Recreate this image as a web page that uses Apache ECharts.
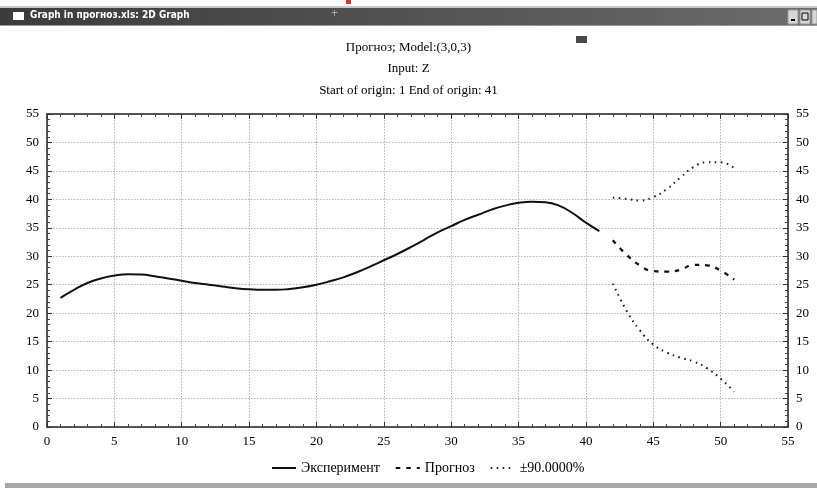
<!DOCTYPE html>
<html>
<head>
<meta charset="utf-8">
<script src="https://cdn.jsdelivr.net/npm/echarts@6/dist/echarts.min.js"></script>
<style>
html,body{margin:0;padding:0;background:#fff;}
#chart{width:817px;height:488px;}
</style>
</head>
<body>
<div id="chart"></div>
<script>
// ---- data ----
var titleLines = ['Прогноз; Model:(3,0,3)', 'Input: Z', 'Start of origin: 1 End of origin: 41'];
var windowTitle = 'Graph in прогноз.xls: 2D Graph';
var seriesNames = ['Эксперимент', 'Прогноз', '±90.0000%'];
var axisTicks = [0, 5, 10, 15, 20, 25, 30, 35, 40, 45, 50, 55];

var expStart = 1; // first observation (x = 1 .. 41)
var experiment = [22.7, 24.1, 25.3, 26.1, 26.6, 26.85, 26.8, 26.5, 26.1, 25.7,
                  25.3, 25.0, 24.7, 24.4, 24.2, 24.1, 24.1, 24.25, 24.55, 25.0,
                  25.6, 26.3, 27.2, 28.2, 29.3, 30.4, 31.6, 32.9, 34.2, 35.3,
                  36.4, 37.3, 38.2, 38.9, 39.4, 39.6, 39.5, 38.9, 37.6, 35.9,
                  34.4];
var fcStart = 42; // forecast x = 42 .. 51
var forecast = [32.8, 30.3, 28.4, 27.4, 27.3, 27.6, 28.5, 28.4, 27.5, 25.9];
var upperBand = [40.3, 40.1, 39.8, 40.4, 41.8, 43.8, 45.7, 46.5, 46.5, 45.5];
var lowerBand = [25.2, 20.5, 17.0, 14.5, 13.1, 12.2, 11.5, 10.3, 8.5, 6.2];

function pairs(start, vals) { return vals.map(function (v, i) { return [start + i, v]; }); }

var chart = echarts.init(document.getElementById('chart'), null, {renderer: 'canvas'});
var serif = 'Liberation Serif, Times New Roman, serif';
var ink = '#000';

function makeAxis(pos, showLabel, showSplit) {
  return {
    type: 'value', position: pos, min: axisTicks[0], max: axisTicks[axisTicks.length - 1], interval: 5,
    axisLine: {show: true, onZero: false, lineStyle: {color: '#222', width: 1.5}},
    axisTick: {show: true, inside: true, length: 5, lineStyle: {color: '#333', width: 1}},
    minorTick: {show: true, splitNumber: 5, length: 3, lineStyle: {color: '#444', width: 1}},
    splitLine: {show: showSplit, lineStyle: {color: '#b4b4b4', type: [1.5, 1.5], width: 1}},
    axisLabel: {show: showLabel, margin: 8, color: ink, fontFamily: serif, fontSize: 13}
  };
}

var lineCommon = {type: 'line', smooth: true, symbol: 'none', silent: true};

var option = {
  animation: false,
  backgroundColor: '#ffffff',
  title: titleLines.map(function (t, i) {
    return {text: t, left: 'center', top: 36 + i * 21.5,
      textStyle: {fontFamily: serif, fontSize: 13, fontWeight: 'normal', color: ink}};
  }),
  grid: {left: 47, right: 29, top: 114, bottom: 61, containLabel: false},
  xAxis: [makeAxis('bottom', true, true), makeAxis('top', false, false)],
  yAxis: [makeAxis('left', true, true), makeAxis('right', true, false)],
  legend: {
    orient: 'horizontal', top: 456, left: 266, itemWidth: 24, itemHeight: 8, itemGap: 15,
    itemStyle: {opacity: 0},
    textStyle: {fontFamily: serif, fontSize: 14, color: ink},
    data: seriesNames.slice()
  },
  series: [
    Object.assign({}, lineCommon, {name: seriesNames[0], data: pairs(expStart, experiment),
      lineStyle: {color: '#111', width: 2}, itemStyle: {color: '#111'}}),
    Object.assign({}, lineCommon, {name: seriesNames[1], data: pairs(fcStart, forecast),
      lineStyle: {color: '#111', width: 2.3, type: [4.5, 6]}, itemStyle: {color: '#111'}}),
    Object.assign({}, lineCommon, {name: seriesNames[2], data: pairs(fcStart, upperBand),
      lineStyle: {color: '#222', width: 2, type: [1.6, 4.4]}, itemStyle: {color: '#222'}}),
    Object.assign({}, lineCommon, {name: seriesNames[2], data: pairs(fcStart, lowerBand),
      lineStyle: {color: '#222', width: 2, type: [1.6, 4.4]}, itemStyle: {color: '#222'}})
  ],
  graphic: [
    {type: 'rect', shape: {x: 0, y: 6, width: 817, height: 2}, style: {fill: '#c9c9c9'}, silent: true},
    {type: 'rect', shape: {x: 0, y: 8, width: 817, height: 17},
      style: {fill: new echarts.graphic.LinearGradient(0, 0, 1, 0, [
        {offset: 0, color: '#3b3b3b'}, {offset: 0.6, color: '#575757'}, {offset: 1, color: '#6c6c6c'}])}, silent: true},
    {type: 'rect', shape: {x: 0, y: 25, width: 817, height: 1}, style: {fill: '#9a9a9a'}, silent: true},
    {type: 'rect', shape: {x: 13, y: 12, width: 11, height: 8}, style: {fill: '#ffffff'}, silent: true},
    {type: 'text', left: 30, top: 10, silent: true,
      style: {text: windowTitle, fill: '#ffffff', font: 'bold 10px "Liberation Sans Narrow", "DejaVu Sans Condensed", sans-serif'}},
    {type: 'text', left: 331, top: 8, silent: true,
      style: {text: '+', fill: '#a8a8a8', font: '12px sans-serif'}},
    {type: 'rect', shape: {x: 346, y: 0, width: 5, height: 4}, style: {fill: '#d23a2a'}, silent: true},
    {type: 'rect', shape: {x: 788, y: 10, width: 10, height: 14}, style: {fill: '#d8d8d8', stroke: '#999'}, silent: true},
    {type: 'rect', shape: {x: 791, y: 19, width: 4, height: 2}, style: {fill: '#000'}, silent: true},
    {type: 'rect', shape: {x: 800, y: 10, width: 10, height: 14}, style: {fill: '#d8d8d8', stroke: '#999'}, silent: true},
    {type: 'rect', shape: {x: 802, y: 13, width: 6, height: 7}, style: {fill: 'none', stroke: '#000', lineWidth: 1}, silent: true},
    {type: 'rect', shape: {x: 812, y: 10, width: 5, height: 14}, style: {fill: '#d8d8d8', stroke: '#999'}, silent: true},
    {type: 'rect', shape: {x: 576, y: 36, width: 11, height: 7}, style: {fill: '#4a4a4a'}, silent: true},
    {type: 'rect', shape: {x: 5, y: 483, width: 812, height: 5}, style: {fill: '#a9a9a9'}, silent: true}
  ]
};
chart.setOption(option);
</script>
</body>
</html>
